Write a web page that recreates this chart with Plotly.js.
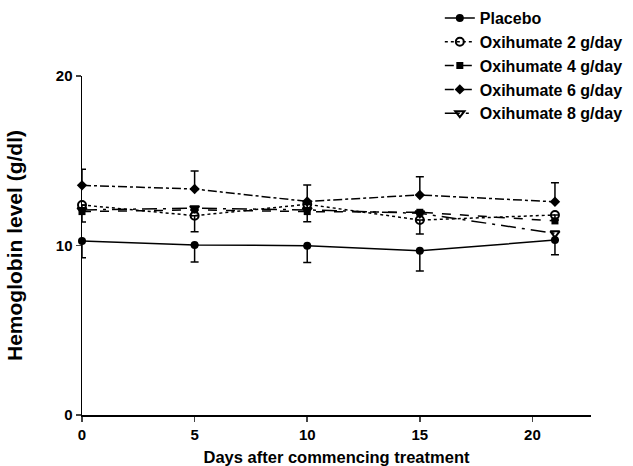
<!DOCTYPE html>
<html>
<head>
<meta charset="utf-8">
<script src="https://cdn.plot.ly/plotly-3.0.1.min.js"></script>
<style>html,body{margin:0;padding:0;background:#fff;}#chart{width:633px;height:466px;}</style>
</head>
<body>
<div id="chart"></div>
<script>
var days = [0, 5, 10, 15, 21];
var seriesNames = ["Placebo", "Oxihumate 2 g/day", "Oxihumate 4 g/day", "Oxihumate 6 g/day", "Oxihumate 8 g/day"];
var placebo = [10.27, 10.03, 9.99, 9.69, 10.32];
var oxi2 = [12.39, 11.76, 12.43, 11.5, 11.8];
var oxi4 = [12.0, 12.1, 12.0, 11.96, 11.45];
var oxi6 = [13.55, 13.33, 12.6, 12.98, 12.58];
var oxi8 = [12.1, 12.2, 12.1, 11.9, 10.72];
var placeboErrMinus = [1.0, 1.0, 1.0, 1.2, 0.86];
var oxi2ErrMinus = [1.0, 0.95, 1.03, 0.82, 0.3];
var oxi6ErrPlus = [0.95, 1.07, 0.97, 1.08, 1.12];
var xTicks = [0, 5, 10, 15, 20];
var yTicks = [0, 10, 20];

var black = "#000";
var fam = "Liberation Sans, Arial, sans-serif";
function errMinus(arr){return {type:"data", symmetric:false, array:arr.map(function(){return 0;}), arrayminus:arr, color:black, thickness:1.5, width:4};}
function errPlus(arr){return {type:"data", symmetric:false, array:arr, arrayminus:arr.map(function(){return 0;}), color:black, thickness:1.5, width:4};}

var traces = [
  {x:days, y:placebo, name:seriesNames[0], mode:"lines+markers", cliponaxis:false,
   line:{color:black, width:1.5, dash:"solid"}, marker:{symbol:"circle", size:8, color:black},
   error_y:errMinus(placeboErrMinus)},
  {x:days, y:oxi2, name:seriesNames[1], mode:"lines+markers", cliponaxis:false,
   line:{color:black, width:1.5, dash:"dot"}, marker:{symbol:"circle-open", size:8, color:black, line:{width:2}},
   error_y:errMinus(oxi2ErrMinus)},
  {x:days, y:oxi4, name:seriesNames[2], mode:"lines+markers", cliponaxis:false,
   line:{color:black, width:1.5, dash:"dash"}, marker:{symbol:"square", size:7, color:black}},
  {x:days, y:oxi6, name:seriesNames[3], mode:"lines+markers", cliponaxis:false,
   line:{color:black, width:1.5, dash:"dashdot"}, marker:{symbol:"diamond", size:8, color:black},
   error_y:errPlus(oxi6ErrPlus)},
  {x:days, y:oxi8, name:seriesNames[4], mode:"lines+markers", cliponaxis:false,
   line:{color:black, width:1.5, dash:"longdashdot"}, marker:{symbol:"triangle-down-open", size:8, color:black, line:{width:2}}}
];

var tickFont = {family:fam, size:15, color:black, weight:"bold"};
var layout = {
  width:633, height:466,
  margin:{l:82, r:42, t:76, b:51, autoexpand:false},
  paper_bgcolor:"#fff", plot_bgcolor:"#fff",
  showlegend:true,
  legend:{x:0.703, xanchor:"left", y:1.221, yanchor:"top", bgcolor:"rgba(0,0,0,0)",
    font:{family:fam, size:16, color:black, weight:"bold"},
    tracegroupgap:0, itemwidth:30},
  xaxis:{range:[0, 22.6], tickvals:xTicks, ticktext:xTicks.map(String), ticks:"outside", ticklen:5, tickwidth:1.5,
    showline:true, linecolor:black, linewidth:1.5, showgrid:false, zeroline:false, tickfont:tickFont, automargin:false,
    title:{text:"Days after commencing treatment", font:{family:fam, size:16.5, color:black, weight:"bold"}, standoff:10}},
  yaxis:{range:[0, 20], tickvals:yTicks, ticktext:yTicks.map(String), ticks:"outside", ticklen:5, tickwidth:1.5,
    showline:true, linecolor:black, linewidth:1.5, showgrid:false, zeroline:false, tickfont:tickFont, automargin:false,
    title:{text:"Hemoglobin level (g/dl)", font:{family:fam, size:21, color:black, weight:"bold"}, standoff:27}}
};
Plotly.newPlot("chart", traces, layout, {displayModeBar:false, staticPlot:true});
</script>
</body>
</html>
